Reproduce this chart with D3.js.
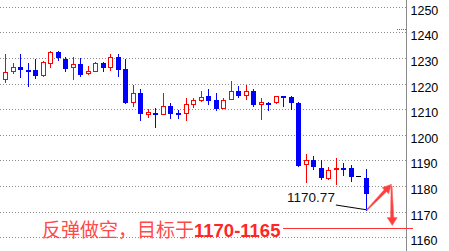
<!DOCTYPE html>
<html>
<head>
<meta charset="utf-8">
<script src="https://cdn.jsdelivr.net/npm/d3@7"></script>
<style>
  body { margin: 0; background: #fff; }
  svg { display: block; }
</style>
</head>
<body>
<div id="chart"></div>
<script>
// ===== data =====
let opens  = [1221.7,1225.0,1226.3,1225.3,1225.3,1223.5,1227.9,1232.2,1229.6,1226.3,1227.7,1224.0,1225.0,1227.9,1226.6,1230.2,1225.6,1212.9,1216.2,1208.2,1208.5,1208.2,1211.2,1208.4,1208.4,1212.2,1213.7,1215.1,1213.5,1210.3,1213.9,1217.0,1215.7,1217.0,1212.1,1212.5,1212.9,1215.1,1214.9,1212.5,1188.6,1190.2,1187.0,1183.0,1186.7,1187.0,1187.0,1183.9,1183.0];
let highs  = [1231.5,1227.9,1231.5,1228.1,1229.6,1228.7,1232.7,1232.7,1230.2,1230.5,1230.1,1226.8,1228.5,1228.5,1231.5,1231.5,1229.6,1219.4,1217.9,1209.9,1210.6,1216.2,1212.5,1209.6,1214.5,1214.2,1217.1,1217.9,1216.3,1214.4,1221.0,1219.0,1219.3,1217.9,1214.3,1212.8,1215.1,1215.1,1215.1,1212.9,1192.5,1191.7,1190.2,1187.6,1190.9,1189.1,1188.1,1183.9,1186.7];
let lows   = [1220.7,1224.0,1222.7,1219.0,1222.2,1223.1,1226.6,1229.2,1224.9,1221.9,1223.1,1223.8,1224.9,1224.9,1225.3,1223.1,1212.6,1211.3,1205.8,1206.9,1203.2,1208.0,1206.4,1206.4,1205.8,1210.7,1213.2,1212.2,1209.5,1210.3,1213.9,1214.8,1213.8,1211.4,1206.2,1209.7,1212.6,1211.3,1210.1,1187.8,1181.7,1186.8,1182.6,1182.6,1180.8,1184.4,1182.1,1183.9,1170.77];
let closes = [1224.6,1226.6,1225.7,1225.0,1223.5,1228.3,1232.2,1230.2,1226.2,1227.7,1223.8,1224.8,1227.9,1226.5,1230.2,1225.8,1212.9,1216.2,1208.6,1209.0,1208.2,1211.2,1208.6,1208.2,1211.9,1213.4,1214.7,1213.7,1210.6,1213.5,1217.0,1215.6,1217.0,1212.1,1212.8,1212.0,1215.1,1214.6,1212.7,1188.2,1190.2,1187.9,1183.6,1186.1,1186.9,1186.8,1183.9,1183.9,1177.2];

let priceTicks = [1160,1170,1180,1190,1200,1210,1220,1230,1240,1250];

// annotations, in candle index / price units
let lowLabel = "1170.77";
let lowLine = [[44, 1172.6], [48, 1170.77]];
let arrowUp = [[48.1, 1170.6], [51.4, 1180.7]];
let arrowDown = [[51.4, 1180.0], [51.5, 1164.6]];
let targetLevel = 1163.6;
let markerLevel = 1241.2;
let noteText = "反弹做空，目标于";
let noteRange = "1170-1165";

// ===== layout =====
let width = 449, height = 251;
let axisX = 406;

let x = d3.scaleLinear().domain([0, 48]).range([5, 366]),
    y = d3.scaleLinear().domain([1160, 1240]).range([237.3, 32.3]);

let px = i => Math.round(x(i));
let py = v => Math.round(y(v));

let svg = d3.select("#chart").append("svg")
    .attr("width", width)
    .attr("height", height);

// ===== grid =====
svg.append("g").selectAll("line")
    .data(priceTicks)
  .enter().append("line")
    .attr("x1", 0).attr("x2", axisX)
    .attr("y1", d => py(d) + 0.5).attr("y2", d => py(d) + 0.5)
    .attr("stroke", "#8c8c8c")
    .attr("stroke-dasharray", "1,2");

// ===== right axis =====
let yAxis = d3.axisRight(y)
    .tickValues(priceTicks)
    .tickSize(0)
    .tickPadding(4)
    .tickFormat(d3.format("d"));

let ax = svg.append("g")
    .attr("transform", "translate(" + (axisX + 0.5) + ",0)")
    .call(yAxis);
ax.select(".domain").remove();
ax.selectAll("text")
    .attr("dy", "0.32em")
    .attr("y", 3.5)
    .attr("fill", "#000")
    .style("font-family", "'Liberation Sans', Arial, sans-serif")
    .style("font-size", "12.5px");

svg.append("line")
    .attr("x1", axisX + 0.5).attr("x2", axisX + 0.5)
    .attr("y1", 0).attr("y2", height)
    .attr("stroke", "#8a8a8a");

// green marker at the axis
svg.append("line")
    .attr("x1", axisX - 9).attr("x2", axisX)
    .attr("y1", py(markerLevel) + 0.5).attr("y2", py(markerLevel) + 0.5)
    .attr("stroke", "#2ca02c")
    .attr("stroke-dasharray", "1,1");

// ===== candles =====
let candles = opens.map((o, i) => ({i: i, o: o, h: highs[i], l: lows[i], c: closes[i]}));
let colorOf = d => d.c > d.o ? "#ff0000" : (d.c < d.o ? "#0000ff" : "#000");

let cg = svg.append("g").attr("shape-rendering", "crispEdges");

cg.selectAll(".wick")
    .data(candles)
  .enter().append("line")
    .attr("class", "wick")
    .attr("x1", d => px(d.i) + 0.5).attr("x2", d => px(d.i) + 0.5)
    .attr("y1", d => py(d.h)).attr("y2", d => py(d.l) + 1)
    .attr("stroke", colorOf);

// bearish: filled blue
cg.selectAll(".down")
    .data(candles.filter(d => d.c < d.o))
  .enter().append("rect")
    .attr("class", "down")
    .attr("x", d => px(d.i) - 2)
    .attr("width", 5)
    .attr("y", d => py(d.o))
    .attr("height", d => Math.max(1, py(d.c) - py(d.o) + 1))
    .attr("fill", "#0000ff");

// bullish: hollow red
cg.selectAll(".up")
    .data(candles.filter(d => d.c > d.o))
  .enter().append("rect")
    .attr("class", "up")
    .attr("x", d => px(d.i) - 1.5)
    .attr("width", 4)
    .attr("y", d => py(d.c) + 0.5)
    .attr("height", d => Math.max(1, py(d.o) - py(d.c)))
    .attr("fill", "#fff")
    .attr("stroke", "#ff0000");

// doji
cg.selectAll(".doji")
    .data(candles.filter(d => d.c === d.o))
  .enter().append("line")
    .attr("class", "doji")
    .attr("x1", d => px(d.i) - 2).attr("x2", d => px(d.i) + 3)
    .attr("y1", d => py(d.o) + 0.5).attr("y2", d => py(d.o) + 0.5)
    .attr("stroke", "#000");

// ===== annotations =====
svg.append("line")
    .attr("x1", x(lowLine[0][0])).attr("y1", y(lowLine[0][1]))
    .attr("x2", x(lowLine[1][0])).attr("y2", y(lowLine[1][1]))
    .attr("stroke", "#000");

svg.append("text")
    .attr("x", x(44) - 1)
    .attr("y", y(1175.6))
    .attr("dy", "0.35em")
    .attr("text-anchor", "end")
    .attr("fill", "#111")
    .style("font-family", "'Liberation Sans', Arial, sans-serif")
    .style("font-size", "13.5px")
    .text(lowLabel);

function arrow(pts, headLen, headW) {
  let x0 = x(pts[0][0]), y0 = y(pts[0][1]),
      x1 = x(pts[1][0]), y1 = y(pts[1][1]);
  let dx = x1 - x0, dy = y1 - y0, len = Math.sqrt(dx * dx + dy * dy);
  let ux = dx / len, uy = dy / len, nx = -uy, ny = ux;
  let bx = x1 - ux * headLen, by = y1 - uy * headLen;
  let p = [
    [x0 + nx * 0.5, y0 + ny * 0.5],
    [bx + nx * 1.6, by + ny * 1.6],
    [bx + nx * headW / 2, by + ny * headW / 2],
    [x1, y1],
    [bx - nx * headW / 2, by - ny * headW / 2],
    [bx - nx * 1.6, by - ny * 1.6],
    [x0 - nx * 0.5, y0 - ny * 0.5]
  ];
  svg.append("path")
    .attr("d", d3.line()(p) + "Z")
    .attr("fill", "#ff3b3b")
    .attr("stroke", "#ff6a6a")
    .attr("stroke-width", 0.6);
}
arrow(arrowUp, 9, 9);
arrow(arrowDown, 8, 10);

// target line
svg.append("line")
    .attr("x1", 283).attr("x2", 413)
    .attr("y1", py(targetLevel) + 0.5).attr("y2", py(targetLevel) + 0.5)
    .attr("stroke", "#ff3333");

let note = svg.append("text")
    .attr("x", 42)
    .attr("y", 237);
note.append("tspan")
    .attr("fill", "#ff4a4a")
    .style("font-family", "'Noto Sans CJK SC', sans-serif")
    .style("font-size", "19px")
    .text(noteText);
note.append("tspan")
    .attr("fill", "#ff2626")
    .style("font-family", "'Liberation Sans', Arial, sans-serif")
    .style("font-weight", "bold")
    .style("font-size", "18.5px")
    .text(noteRange);
</script>
</body>
</html>
